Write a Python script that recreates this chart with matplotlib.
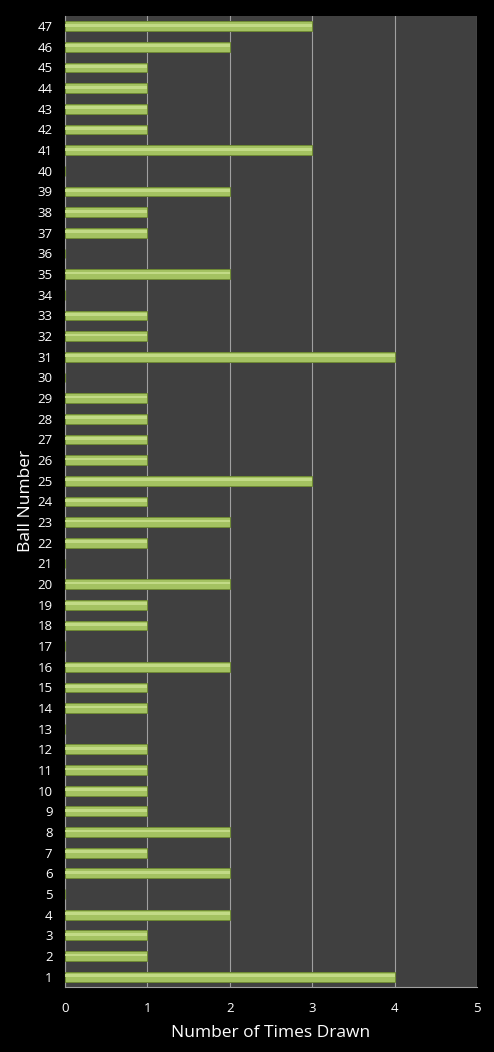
import matplotlib
matplotlib.use("Agg")
import matplotlib.pyplot as plt
import numpy as np

balls = list(range(1, 48))
times_drawn = [4, 1, 1, 2, 0, 2, 1, 2, 1, 1,
               1, 1, 0, 1, 1, 2, 0, 1, 1, 2,
               0, 1, 2, 1, 3, 1, 1, 1, 1, 0,
               4, 1, 1, 0, 2, 0, 1, 1, 2, 0,
               3, 1, 1, 1, 1, 2, 3]
x_ticks = [0, 1, 2, 3, 4, 5]

plt.rcParams['font.family'] = ['Open Sans', 'DejaVu Sans']

fig = plt.figure(figsize=(4.94, 10.52), dpi=100, facecolor='black')
ax = fig.add_axes([0.1316, 0.0618, 0.834, 0.9232])
ax.set_facecolor('#404040')

ax.barh(balls, times_drawn, height=0.47, color='#a4c261', edgecolor='#6f8a35',
        linewidth=0.7, zorder=3)
# subtle highlight stripe for the glossy look
ax.barh(np.array(balls) + 0.05, times_drawn, height=0.14, color='#c2da86',
        linewidth=0, zorder=4)

ax.set_xlim(0, 5)
ax.set_ylim(0.5, 47.5)
ax.set_xticks(x_ticks)
ax.set_yticks(balls)
ax.set_yticklabels([str(b) for b in balls])
ax.xaxis.grid(True, color='#a0a0a0', linewidth=0.8, zorder=1)
ax.set_axisbelow(True)

for side in ['top', 'right']:
    ax.spines[side].set_visible(False)
for side in ['left', 'bottom']:
    ax.spines[side].set_color('#a0a0a0')
    ax.spines[side].set_linewidth(0.8)

ax.tick_params(axis='both', colors='white', labelsize=9.5, length=0)
ax.tick_params(axis='x', pad=11)
ax.tick_params(axis='y', pad=9)
ax.set_xlabel('Number of Times Drawn', color='white', fontsize=12.5, labelpad=7)
ax.set_ylabel('Ball Number', color='white', fontsize=12.5, labelpad=2)

fig.savefig('out.png', dpi=100, facecolor='black')
